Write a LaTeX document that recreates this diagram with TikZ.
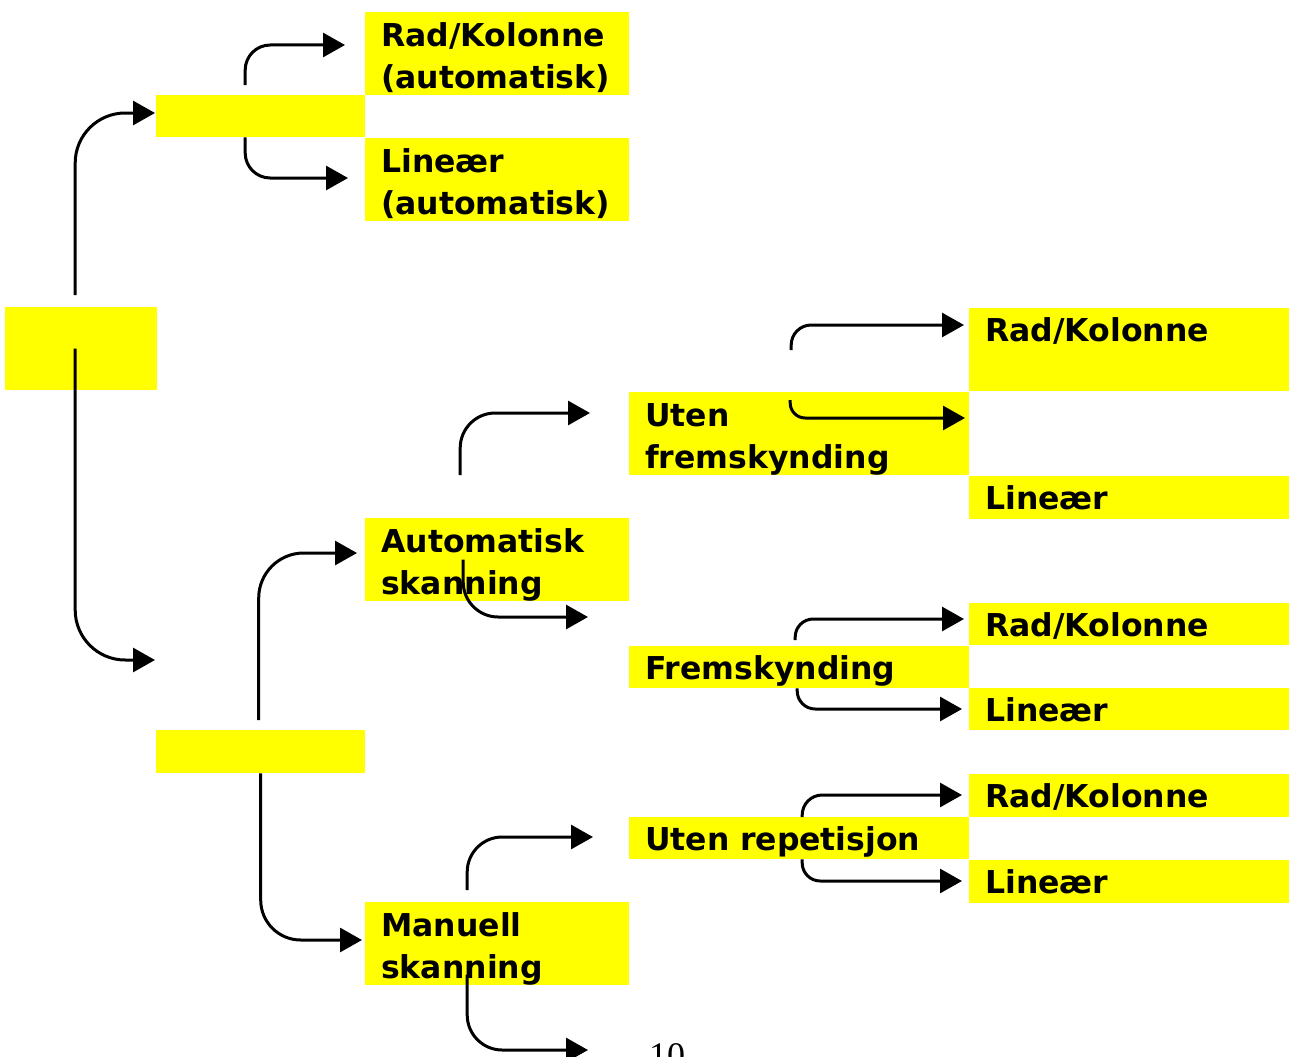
\documentclass[tikz,border=0pt]{standalone}
\usepackage{fontspec}
\setmainfont{DejaVu Sans}
\newfontfamily\sidefont{Liberation Serif}
\usetikzlibrary{arrows.meta}
\definecolor{gul}{RGB}{255,255,0}
\newcommand{\lbl}{\fontsize{31.5}{42}\selectfont\bfseries}
\tikzset{
    box/.style={fill=gul, anchor=north west, inner xsep=16pt, inner ysep=0pt, align=left, font=\lbl},
    midbox/.style={box, minimum width=264pt, text width=232pt, text height=34pt, text depth=49pt},
    leftbox/.style={box, minimum width=209pt, text width=177pt},
    subbox/.style={box, minimum width=340pt, text width=308pt},
    endbox/.style={box, minimum width=320pt, text width=288pt},
    oneline/.style={text height=33pt, text depth=#1},
    pil/.style={line width=3pt, -{Triangle[length=22pt,width=24pt]}, rounded corners=#1},
    pil/.default=30pt
}
\begin{document}
\begin{tikzpicture}[x=1pt,y=-1pt]
    \useasboundingbox (0,0) rectangle (1290,1057);
    % felter
    \node[box, minimum width=152pt, minimum height=83pt] (root) at (5,307) {};
    \node[leftbox, minimum height=42pt] (auto) at (156,95) {};
    \node[leftbox, minimum height=43pt] (skann) at (156,730) {};
    \node[midbox] (rk1) at (365,12) {Rad/Kolonne\\(automatisk)};
    \node[midbox] (lin1) at (365,138) {Lineær\\(automatisk)};
    \node[midbox] (autosk) at (365,518) {Automatisk\\skanning};
    \node[midbox] (mansk) at (365,902) {Manuell\\skanning};
    \node[subbox, text height=34pt, text depth=49pt] (uten) at (629,392) {Uten\\fremskynding};
    \node[subbox, oneline=9pt] (frem) at (629,646) {Fremskynding};
    \node[subbox, oneline=9pt] (utenrep) at (629,817) {Uten repetisjon};
    \node[endbox, oneline=50pt] (rk2) at (969,308) {Rad/Kolonne};
    \node[endbox, oneline=10pt] (lin2) at (969,476) {Lineær};
    \node[endbox, oneline=9pt] (rk3) at (969,603) {Rad/Kolonne};
    \node[endbox, oneline=9pt] (lin3) at (969,688) {Lineær};
    \node[endbox, oneline=10pt] (rk4) at (969,774) {Rad/Kolonne};
    \node[endbox, oneline=10pt] (lin4) at (969,860) {Lineær};
    \node[font=\sidefont\fontsize{36}{40}\selectfont, anchor=base west, inner sep=0pt] (side) at (649,1067) {10};
    % pilspisser
    \coordinate (tRoot1) at (155,113);
    \coordinate (tRoot2) at (155,660);
    \coordinate (tRk1) at (345,45);
    \coordinate (tLin1) at (348,178);
    \coordinate (tAuto) at (357,553);
    \coordinate (tMan) at (362,940);
    \coordinate (tUten) at (590,413);
    \coordinate (tFrem) at (588,617);
    \coordinate (tRep) at (593,837);
    \coordinate (tTom) at (588,1050); %peker mot ingenting
    \coordinate (tRk2) at (964,325);
    \coordinate (tLin2) at (965,418);
    \coordinate (tRk3) at (964,619);
    \coordinate (tLin3) at (962,709);
    \coordinate (tRk4) at (962,795);
    \coordinate (tLin4) at (962,881);
    % piler
    \draw[pil=50pt] ([shift={(-6,-12)}]root.north) |- (tRoot1);
    \draw[pil=50pt] ([xshift=-6pt]root.center) |- (tRoot2);
    \draw[pil=25pt] ([shift={(-15.5,-10)}]auto.north) |- (tRk1);
    \draw[pil=25pt] ([xshift=-15.5pt]auto.south) |- (tLin1);
    \draw[pil=45pt] ([shift={(-2,-10)}]skann.north) |- (tAuto);
    \draw[pil=40pt] (skann.south) |- (tMan);
    \draw[pil=35pt] ([shift={(-37,-43)}]autosk.north) |- (tUten);
    \draw[pil=35pt] ([xshift=-34pt]autosk.center) |- (tFrem);
    \draw[pil=35pt] ([shift={(-30,-12)}]mansk.north) |- (tRep);
    \draw[pil=35pt] ([shift={(-30,31)}]mansk.center) |- (tTom);
    \draw[pil=20pt] ([shift={(-8,-42)}]uten.north) |- (tRk2);
    \draw[pil=15pt] ([shift={(-9,8)}]uten.north) |- (tLin2);
    \draw[pil=18pt] ([shift={(-4,-6)}]frem.north) |- (tRk3);
    \draw[pil=18pt] ([xshift=-2pt]frem.south) |- (tLin3);
    \draw[pil=20pt] ([xshift=3pt]utenrep.north) |- (tRk4);
    \draw[pil=18pt] ([xshift=3pt]utenrep.south) |- (tLin4);
\end{tikzpicture}
\end{document}
